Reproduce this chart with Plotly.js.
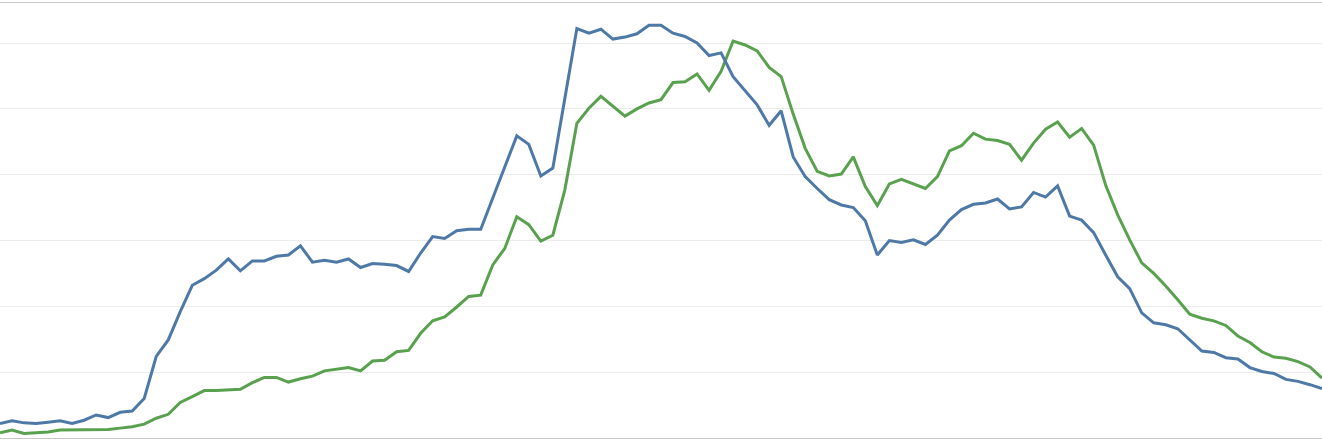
<!DOCTYPE html>
<html>
<head>
<meta charset="utf-8">
<script src="https://cdn.plot.ly/plotly-3.0.1.min.js"></script>
<style>
  html, body { margin: 0; padding: 0; background: #ffffff; }
  #chart { width: 1322px; height: 441px; }
</style>
</head>
<body>
<div id="chart"></div>
<script>
// Period index (111 evenly spaced observations)
const periods = Array.from({length: 111}, (_, i) => i);

const seriesBlue = [
  2.2, 2.6, 2.3, 2.2, 2.4, 2.6, 2.2, 2.7, 3.5, 3.1,
  3.9, 4.1, 6.0, 12.4, 14.9, 19.2, 23.2, 24.2, 25.5, 27.2,
  25.4, 26.9, 26.9, 27.6, 27.8, 29.2, 26.7, 27.0, 26.7, 27.2,
  25.9, 26.5, 26.4, 26.2, 25.3, 28.1, 30.6, 30.3, 31.5, 31.7,
  31.7, 36.4, 41.2, 45.9, 44.6, 39.8, 41.0, 51.3, 62.2, 61.5,
  62.1, 60.6, 60.9, 61.4, 62.7, 62.7, 61.5, 61.0, 60.0, 58.1,
  58.5, 54.9, 52.8, 50.6, 47.5, 49.7, 42.7, 39.7, 37.9, 36.2,
  35.4, 35.0, 33.0, 27.8, 30.0, 29.7, 30.1, 29.4, 30.8, 33.1,
  34.7, 35.5, 35.7, 36.3, 34.8, 35.1, 37.3, 36.6, 38.3, 33.7,
  33.1, 31.2, 27.8, 24.5, 22.7, 19.0, 17.5, 17.2, 16.6, 14.9,
  13.2, 13.0, 12.2, 12.0, 10.7, 10.1, 9.8, 8.9, 8.6, 8.1,
  7.5
];

const seriesGreen = [
  0.8, 1.2, 0.7, 0.8, 0.9, 1.2, 1.2, 1.2, 1.2, 1.3,
  1.5, 1.7, 2.1, 3.0, 3.6, 5.4, 6.3, 7.2, 7.2, 7.3,
  7.4, 8.4, 9.2, 9.2, 8.5, 9.0, 9.4, 10.2, 10.4, 10.7,
  10.2, 11.7, 11.8, 13.1, 13.3, 15.9, 17.8, 18.4, 19.9, 21.5,
  21.7, 26.3, 28.8, 33.6, 32.4, 29.9, 30.8, 37.7, 47.8, 50.1,
  51.9, 50.4, 48.9, 50.0, 50.9, 51.4, 54.0, 54.1, 55.3, 52.8,
  55.7, 60.3, 59.7, 58.8, 56.3, 54.9, 49.2, 44.0, 40.5, 39.8,
  40.1, 42.7, 38.2, 35.3, 38.6, 39.3, 38.6, 37.9, 39.7, 43.6,
  44.4, 46.3, 45.4, 45.2, 44.6, 42.2, 44.8, 46.9, 48.0, 45.7,
  47.0, 44.5, 38.4, 33.9, 30.1, 26.6, 25.0, 23.1, 21.0, 18.8,
  18.2, 17.8, 17.1, 15.5, 14.5, 13.1, 12.3, 12.1, 11.6, 10.8,
  9.1
];

const traces = [
  {
    x: periods, y: seriesGreen, type: 'scatter', mode: 'lines',
    line: {color: '#59a14f', width: 3}, hoverinfo: 'skip', showlegend: false
  },
  {
    x: periods, y: seriesBlue, type: 'scatter', mode: 'lines',
    line: {color: '#4e79a7', width: 3}, hoverinfo: 'skip', showlegend: false
  }
];

const layout = {
  width: 1322, height: 441,
  margin: {l: 0, r: 0, t: 3, b: 3, pad: 0},
  paper_bgcolor: '#ffffff', plot_bgcolor: '#ffffff',
  showlegend: false,
  xaxis: {
    range: [0, 110], showgrid: false, zeroline: false,
    showticklabels: false, ticks: '',
    showline: true, linecolor: '#c8c8c8', linewidth: 1, mirror: true
  },
  yaxis: {
    range: [0, 66.08], dtick: 10, tick0: 0,
    showgrid: true, gridcolor: '#ececec', gridwidth: 1,
    zeroline: false, showticklabels: false, ticks: '', showline: false
  }
};

Plotly.newPlot('chart', traces, layout, {staticPlot: true, displayModeBar: false});
</script>
</body>
</html>
